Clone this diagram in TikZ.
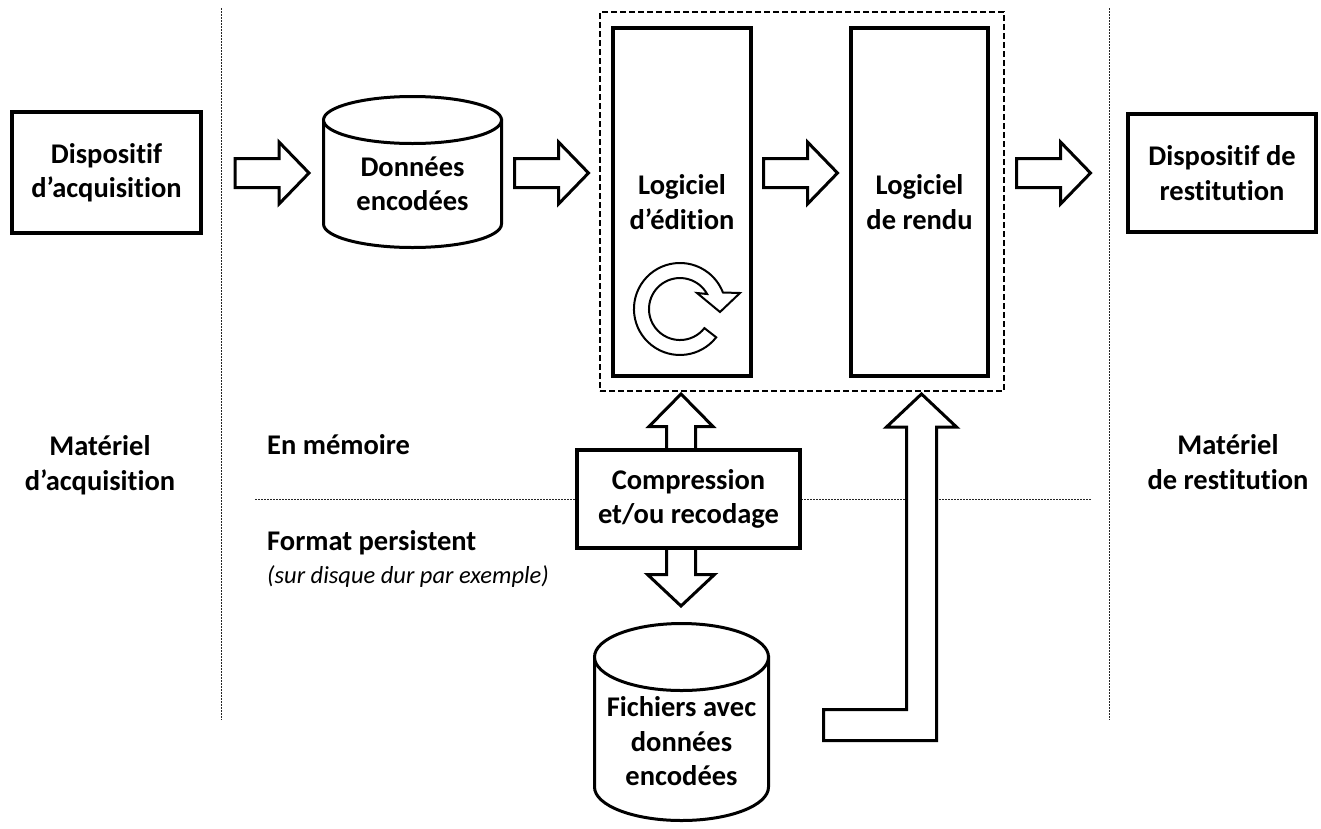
\documentclass[tikz,border=0pt]{standalone}
\usepackage{fontspec}
\setmainfont{Carlito}[Ligatures=NoCommon]
\usetikzlibrary{calc}
\begin{document}
\tikzset{
  bigtxt/.style={font=\bfseries\fontsize{28.5}{34.5}\selectfont, align=center, inner sep=0pt},
  boxnode/.style={draw, line width=4pt, fill=white, bigtxt},
  shapeline/.style={line width=3pt, fill=white, line join=miter},
  sepline/.style={line width=1pt, black!85, dash pattern=on 2pt off 1pt},
  harrow/.pic={\draw[shapeline] (0,-14.5) -- (44,-14.5) -- (44,-31) -- (74,0) -- (44,31) -- (44,14.5) -- (0,14.5) -- cycle;},
}
\begin{tikzpicture}[x=1pt, y=-1pt]
\useasboundingbox (0,0) rectangle (1321,828);
% separators
\coordinate (s1a) at (221,8);   \coordinate (s1b) at (221,720);
\coordinate (s2a) at (1109,8);  \coordinate (s2b) at (1109,720);
\coordinate (h1a) at (255,499); \coordinate (h1b) at (1091,499);
\draw[sepline] (s1a) -- (s1b);
\draw[sepline] (s2a) -- (s2b);
\draw[sepline] (h1a) -- (h1b);

% group dashed box
\node[draw, line width=1.3pt, dash pattern=on 6pt off 3pt, minimum width=404pt, minimum height=379pt, inner sep=0pt] (grp) at (802,201.5) {};

% devices
\node[boxnode, minimum width=189pt, minimum height=121pt] (acq) at (106.5,172.5) {Dispositif\\d’acquisition};
\node[boxnode, minimum width=188pt, minimum height=118pt] (rest) at (1222,173) {Dispositif de\\restitution};

% cylinder 1
\draw[shapeline] (323.5,120) -- (323.5,224) arc[start angle=180, end angle=0, x radius=89, y radius=23.5] -- (501.5,120) -- cycle;
\draw[line width=3pt, fill=white] (412.5,120) ellipse[x radius=89, y radius=23.5];
\node[bigtxt] (don) at (412.5,184) {Données\\encodées};

% software boxes
\node[boxnode, minimum width=138pt, minimum height=348pt] (edit) at (682,202) {Logiciel\\d’édition};
\node[boxnode, minimum width=137pt, minimum height=348pt] (rendu) at (919.5,202) {Logiciel\\de rendu};

% circular arrow
\draw[line width=2pt, fill=white, line join=miter] (716.2,337.3) arc[start angle=38, end angle=339, radius=46]
  -- (740,293) -- (720,312) -- (697,293) -- (707.1,294)
  arc[start angle=331, end angle=38, radius=31] -- cycle;

% horizontal block arrows
\pic at (235,173) {harrow};
\pic at (514.5,173) {harrow};
\pic at (763.5,173) {harrow};
\pic at (1016.5,173) {harrow};

% vertical arrows around compression
\draw[shapeline] (666.5,450) -- (666.5,426.5) -- (649,426.5) -- (681,394) -- (713,426.5) -- (695.5,426.5) -- (695.5,450) -- cycle;
\draw[shapeline] (666.5,548) -- (666.5,574.5) -- (647.5,574.5) -- (681,606) -- (714.5,574.5) -- (695.5,574.5) -- (695.5,548) -- cycle;

% L-shaped arrow to rendering
\draw[shapeline] (823.5,709.5) -- (906.5,709.5) -- (906.5,427) -- (886.5,427) -- (921.5,394) -- (956.5,427) -- (936.5,427) -- (936.5,740.5) -- (823.5,740.5) -- cycle;

% compression box
\node[boxnode, minimum width=223pt, minimum height=98pt] (comp) at (688.5,499) {Compression\\et/ou recodage};

% cylinder 2
\draw[shapeline] (594.5,657) -- (594.5,787) arc[start angle=180, end angle=0, x radius=87, y radius=33.5] -- (768.5,657) -- cycle;
\draw[line width=3pt, fill=white] (681.5,657) ellipse[x radius=87, y radius=33.5];
\node[bigtxt] (fich) at (681.5,741.5) {Fichiers avec\\données\\encodées};

% labels
\node[bigtxt] (matacq) at (100,465) {Matériel\\d’acquisition};
\node[bigtxt] (matres) at (1228,462) {Matériel\\de restitution};
\node[bigtxt, anchor=base west] (mem) at (267,454) {En mémoire};
\node[bigtxt, anchor=base west] (fmt) at (267,550) {Format persistent};
\node[font=\itshape\fontsize{24.5}{29}\selectfont, inner sep=0pt, anchor=base west] (disk) at (267,583) {(sur disque dur par exemple)};
\end{tikzpicture}
\end{document}
